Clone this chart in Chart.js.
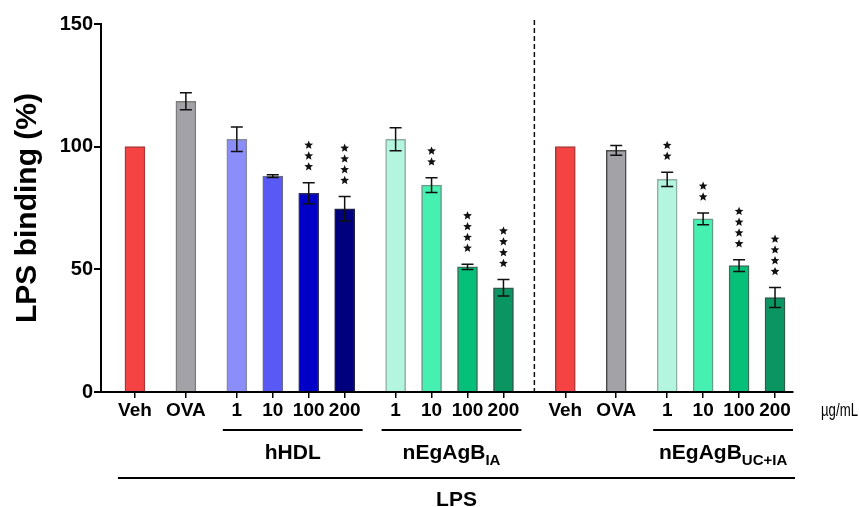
<!DOCTYPE html>
<html>
<head>
<meta charset="utf-8">
<script src="https://cdn.jsdelivr.net/npm/chart.js@4/dist/chart.umd.min.js"></script>
<style>
  body { margin: 0; background: #fff; }
  canvas { display: block; }
</style>
</head>
<body>
<canvas id="lpsChart" width="859" height="507"></canvas>
<script>
// bar labels along the x axis
var categories = ['Veh', 'OVA', '1', '10', '100', '200', '1', '10', '100', '200', 'Veh', 'OVA', '1', '10', '100', '200'];
// mean LPS binding (%) and error (SEM)
var means = [100, 118.5, 103, 88, 81, 74.7, 103, 84.3, 51, 42.5, 100, 98.5, 86.7, 70.6, 51.5, 38.5];
var errors = [0, 3.5, 5, 0.6, 4.3, 5, 4.7, 3, 1.1, 3.4, 0, 2, 2.9, 2.4, 2.4, 4.1];
// number of significance stars over each bar
var stars = [0, 0, 0, 0, 3, 4, 0, 2, 4, 4, 0, 0, 2, 2, 4, 4];
// treatment groups (index of first and last bar)
var groupNames = ['hHDL', 'nEgAgB', 'nEgAgB'];
var groupSubs = ['', 'IA', 'UC+IA'];
var groupFirst = [2, 6, 12];
var groupLast = [5, 9, 15];
var yTicks = [0, 50, 100, 150];

var fills = ['#F54343', '#A3A3A7', '#8B8DF9', '#5959F6', '#0000C6', '#00007E',
             '#B3F5DE', '#45F0B1', '#06BF78', '#0B9563',
             '#F54343', '#A3A3A7', '#B3F5DE', '#45F0B1', '#06BF78', '#0B9563'];
var borders = ['#A83838', '#7C7C7C', '#8A8A9A', '#6A6A8A', '#303060', '#202040',
               '#8FAFA2', '#6A9A88', '#3E6E58', '#2E5A48',
               '#A83838', '#4A4A4A', '#8FAFA2', '#6A9A88', '#3E6E58', '#2E5A48'];

// layout: spacing between neighbouring bars (in bar steps)
var IN = 1, GAP = 1.417, PANEL = 1.72;
var spacing = [GAP, GAP, IN, IN, IN, GAP, IN, IN, IN, PANEL, GAP, GAP, IN, IN, IN];
var xPos = [0];
for (var i = 0; i < spacing.length; i++) xPos.push(xPos[i] + spacing[i]);

var FONT = '"Liberation Sans", Arial, sans-serif';

function drawStar(ctx, cx, cy, r) {
    ctx.beginPath();
    for (var k = 0; k < 10; k++) {
        var rad = k % 2 === 0 ? r : r * 0.45;
        var a = -Math.PI / 2 + k * Math.PI / 5;
        ctx.lineTo(cx + rad * Math.cos(a), cy + rad * Math.sin(a));
    }
    ctx.closePath();
    ctx.fill();
}

var extras = {
    id: 'extras',
    afterDatasetsDraw: function (chart) {
        var ctx = chart.ctx;
        var xs = chart.scales.x, ys = chart.scales.y;
        ctx.save();
        ctx.strokeStyle = '#111';
        ctx.fillStyle = '#111';

        // error bars + stars
        for (var i = 0; i < means.length; i++) {
            var px = xs.getPixelForValue(xPos[i]);
            var top = ys.getPixelForValue(means[i] + errors[i]);
            if (errors[i] > 0) {
                var bot = ys.getPixelForValue(means[i] - errors[i]);
                ctx.lineWidth = 1.5;
                ctx.beginPath();
                ctx.moveTo(px, top); ctx.lineTo(px, bot);
                ctx.moveTo(px - 6, top); ctx.lineTo(px + 6, top);
                ctx.moveTo(px - 6, bot); ctx.lineTo(px + 6, bot);
                ctx.stroke();
            }
            for (var s = 0; s < stars[i]; s++) {
                drawStar(ctx, px, top - 16 - s * 10.8, 4.6);
            }
        }

        // dashed separator between the two panels
        var dx = xs.getPixelForValue((xPos[9] + xPos[10]) / 2);
        ctx.setLineDash([5, 3]);
        ctx.lineWidth = 1.5;
        ctx.beginPath();
        ctx.moveTo(dx, chart.chartArea.top - 4);
        ctx.lineTo(dx, chart.chartArea.bottom);
        ctx.stroke();
        ctx.setLineDash([]);

        // unit label (squeezed to fit like the original)
        ctx.fillStyle = '#000';
        ctx.font = '18px ' + FONT;
        ctx.textAlign = 'left';
        ctx.textBaseline = 'middle';
        ctx.fillText('\u00b5g/mL', chart.chartArea.right + 28, chart.chartArea.bottom + 19, 37);

        // group lines and labels
        var lineY = chart.chartArea.bottom + 38;
        ctx.lineWidth = 2;
        ctx.strokeStyle = '#000';
        for (var g = 0; g < groupNames.length; g++) {
            var x1 = xs.getPixelForValue(xPos[groupFirst[g]]) - 14;
            var x2 = xs.getPixelForValue(xPos[groupLast[g]]) + 18;
            ctx.beginPath();
            ctx.moveTo(x1, lineY); ctx.lineTo(x2, lineY);
            ctx.stroke();
            ctx.font = 'bold 21px ' + FONT;
            var w1 = ctx.measureText(groupNames[g]).width;
            ctx.font = 'bold 15px ' + FONT;
            var w2 = groupSubs[g] ? ctx.measureText(groupSubs[g]).width : 0;
            var sx = (x1 + x2) / 2 - (w1 + w2) / 2;
            ctx.textAlign = 'left';
            ctx.textBaseline = 'alphabetic';
            ctx.font = 'bold 21px ' + FONT;
            ctx.fillText(groupNames[g], sx, lineY + 29);
            if (groupSubs[g]) {
                ctx.font = 'bold 15px ' + FONT;
                ctx.fillText(groupSubs[g], sx + w1, lineY + 35);
            }
        }

        // LPS line and label
        var lx1 = xs.getPixelForValue(xPos[0]) - 17;
        var lx2 = xs.getPixelForValue(xPos[xPos.length - 1]) + 20;
        var lpsY = chart.chartArea.bottom + 86;
        ctx.beginPath();
        ctx.moveTo(lx1, lpsY); ctx.lineTo(lx2, lpsY);
        ctx.stroke();
        ctx.font = 'bold 21px ' + FONT;
        ctx.textAlign = 'center';
        ctx.textBaseline = 'alphabetic';
        ctx.fillText('LPS', (lx1 + lx2) / 2, lpsY + 28);
        ctx.restore();
    }
};

var points = means.map(function (m, i) { return { x: xPos[i], y: m }; });

var ctx = document.getElementById('lpsChart').getContext('2d');
var chart = new Chart(ctx, {
    type: 'bar',
    data: {
        datasets: [{
            data: points,
            backgroundColor: fills,
            borderColor: borders,
            borderWidth: 1.5,
            barThickness: 20
        }]
    },
    options: {
        responsive: false,
        devicePixelRatio: 1,
        animation: false,
        layout: { padding: { top: 24, right: 66, left: 0, bottom: 0 } },
        plugins: { legend: { display: false }, tooltip: { enabled: false } },
        scales: {
            x: {
                type: 'linear',
                offset: false,
                min: -0.944,
                max: xPos[xPos.length - 1] + 0.5,
                afterBuildTicks: function (axis) {
                    axis.ticks = xPos.map(function (v) { return { value: v }; });
                },
                afterFit: function (scale) { scale.height = 115; },
                border: { color: '#000', width: 2 },
                grid: { display: true, offset: false, drawOnChartArea: false, color: '#000', tickColor: '#000', tickLength: 6, lineWidth: 1.5 },
                ticks: {
                    autoSkip: false,
                    maxRotation: 0,
                    padding: 1,
                    color: '#000',
                    font: { family: FONT, size: 19, weight: 'bold' },
                    callback: function (v, i) { return categories[i]; }
                }
            },
            y: {
                min: 0,
                max: 150,
                afterBuildTicks: function (axis) {
                    axis.ticks = yTicks.map(function (v) { return { value: v }; });
                },
                afterFit: function (scale) { scale.width = 101; },
                border: { color: '#000', width: 2 },
                grid: { display: true, drawOnChartArea: false, color: '#000', tickColor: '#000', tickLength: 7, lineWidth: 2 },
                ticks: {
                    padding: 1,
                    color: '#000',
                    font: { family: FONT, size: 20, weight: 'bold' }
                },
                title: {
                    display: true,
                    text: 'LPS binding (%)',
                    color: '#000',
                    font: { family: FONT, size: 30, weight: 'bold' },
                    padding: { top: 10, bottom: 0 }
                }
            }
        }
    },
    plugins: [extras]
});
</script>
</body>
</html>
